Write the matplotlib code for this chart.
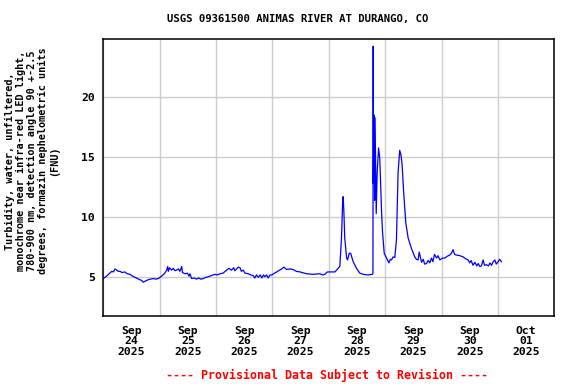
import pandas as pd
import matplotlib
matplotlib.use("Agg")
import matplotlib.pyplot as plt
import matplotlib.dates as mdates
from matplotlib.ticker import NullFormatter

# hours since 2025-09-24 00:00 and turbidity (FNU)
hours = [0, 1.4, 2.5, 3.6, 4.3, 5.0, 5.7, 6.4, 7.1, 8.0, 9.2, 10.2, 11.4, 12.5,
         13.5, 14.5, 15.6, 16.3, 17.0, 18.0, 19.1, 20.0, 21.3, 22.4, 23.4,
         24.8, 26.0, 27.0, 27.4, 27.7, 28.2, 29.1, 29.8, 30.5, 31.2, 32.0, 32.6,
         33.4, 33.7, 34.8, 35.8, 36.5, 36.9, 37.6, 38.6, 39.7, 40.6, 41.5, 42.6,
         43.6, 44.7, 46.0, 47.5, 48.6, 49.7, 51.0, 52.5, 53.5, 54.6, 55.5, 56.0,
         56.8, 57.5, 58.2, 58.8, 59.6, 60.3, 61.7, 62.8, 63.8, 64.5, 65.2, 66.0,
         66.8, 67.5, 68.2, 68.8, 69.5, 70.2, 71.0, 71.7, 73.8, 75.9, 76.9, 78.0,
         79.5, 80.8, 82.2, 83.7, 86.5, 89.4, 92.2, 93.4, 94.3, 95.4, 96.4, 98.6,
         100.7, 101.4, 101.9, 102.1, 102.4, 102.8, 103.6, 104.0, 104.7, 105.3,
         106.4, 107.8, 109.2, 110.6, 112.8, 114.5, 114.8, 114.9, 115.0, 115.2,
         115.5, 115.7, 116.2, 116.6, 117.2, 117.7, 118.5, 118.9, 119.6, 120.6,
         121.6, 122.2, 122.7, 123.4, 124.1, 124.8, 125.1, 125.5, 126.2, 126.7,
         127.2, 127.9, 128.8, 129.8, 131.2, 132.0, 132.6, 133.3, 134.0, 134.5,
         135.5, 136.2, 136.8, 137.6, 138.3, 139.0, 139.7, 140.3, 141.0, 141.9,
         142.5, 143.3, 144.4, 145.4, 146.4, 147.5, 148.2, 148.9, 149.6, 150.4,
         151.8, 153.2, 154.2, 155.3, 156.0, 156.6, 157.4, 158.2, 159.0, 159.6,
         160.3, 161.0, 161.7, 162.3, 163.1, 164.0, 164.6, 165.3, 166.0, 166.7,
         167.3, 168.1, 168.7, 169.5]
fnu = [4.9, 5.1, 5.3, 5.5, 5.45, 5.7, 5.6, 5.5, 5.5, 5.4, 5.45, 5.3, 5.25, 5.1,
       5.0, 4.9, 4.8, 4.75, 4.6, 4.7, 4.8, 4.85, 4.9, 4.85, 4.9,
       5.1, 5.3, 5.6, 5.9, 5.5, 5.8, 5.6, 5.75, 5.55, 5.6, 5.7, 5.5,
       5.9, 5.4, 5.3, 5.35, 5.1, 5.3, 4.9, 4.95, 4.85, 4.95, 4.85, 4.9,
       5.0, 5.05, 5.15, 5.25, 5.2, 5.3, 5.35, 5.6, 5.75, 5.6, 5.8, 5.55,
       5.7, 5.85, 5.8, 5.5, 5.6, 5.35, 5.3, 5.2, 5.15, 4.95, 5.2, 5.0,
       5.2, 4.95, 5.2, 5.05, 5.2, 4.95, 5.2, 5.2, 5.45, 5.7, 5.85, 5.65,
       5.7, 5.65, 5.5, 5.45, 5.3, 5.25, 5.3, 5.2, 5.25, 5.45, 5.45, 5.45,
       5.9, 8.25, 11.2, 11.7, 10.6, 8.25, 6.6, 6.45, 7.0, 7.0,
       6.3, 5.75, 5.35, 5.25, 5.2, 5.25, 5.3, 24.2, 12.8, 18.5,
       11.4, 18.25, 10.3, 13.7, 15.75, 14.9, 10.3, 8.7, 7.0, 6.6,
       6.2, 6.5, 6.45, 6.7, 6.65, 8.1, 10.6, 13.7, 15.55, 15.2,
       14.4, 12.0, 9.5, 8.25, 7.4, 7.0, 6.7, 6.5, 6.45, 7.1,
       6.25, 6.5, 6.1, 6.15, 6.4, 6.2, 6.6, 6.3, 6.9, 6.6,
       6.8, 6.45, 6.6, 6.6, 6.75, 6.85, 7.0, 7.3, 6.9, 6.85,
       6.8, 6.7, 6.55, 6.45, 6.2, 6.4, 6.0, 6.25, 5.95, 6.15,
       5.9, 5.95, 6.45, 6.0, 6.05, 5.95, 6.2, 6.0, 6.3, 6.45,
       6.1, 6.3, 6.5, 6.3]

start = pd.Timestamp("2025-09-24 00:00")
times = start + pd.to_timedelta(hours, unit="h")

mono = "DejaVu Sans Mono"

fig = plt.figure(figsize=(5.76, 3.84), dpi=100)
ax = fig.add_axes([0.1793, 0.1771, 0.783, 0.7214])

ax.plot(times, fnu, color="#0000ff", linewidth=0.9)

ax.set_xlim(start, pd.Timestamp("2025-10-02 00:00"))
ax.set_ylim(1.79, 24.8)
ax.set_yticks([5, 10, 15, 20])

ax.xaxis.set_major_locator(mdates.DayLocator())
ax.xaxis.set_major_formatter(NullFormatter())
ax.xaxis.set_minor_locator(mdates.HourLocator(byhour=12))
ax.xaxis.set_minor_formatter(mdates.DateFormatter("%b\n%d\n%Y"))

ax.grid(True, which="major", color="#cccccc", linewidth=1)
ax.set_axisbelow(True)
ax.tick_params(which="both", length=0)
ax.tick_params(axis="x", which="minor", pad=7)
ax.tick_params(axis="y", pad=6)
for lab in ax.get_xticklabels(minor=True) + ax.get_yticklabels():
    lab.set_fontfamily(mono)
    lab.set_fontweight("bold")
    lab.set_fontsize(8.2)
for lab in ax.get_xticklabels(minor=True):
    lab.set_linespacing(1.05)
for s in ax.spines.values():
    s.set_linewidth(1.1)

fig.text(297.5 / 576, 1 - 19 / 384, "USGS 09361500 ANIMAS RIVER AT DURANGO, CO",
         ha="center", va="center", family=mono, weight="bold", fontsize=7.7)

fig.text(31.7 / 576, 1 - 161 / 384,
         "Turbidity, water, unfiltered,\n"
         "monochrome near infra-red LED light,\n"
         "780-900 nm, detection angle 90 +-2.5\n"
         "degrees, formazin nephelometric units\n"
         "(FNU)",
         rotation=90, ha="center", va="center", multialignment="center",
         family=mono, weight="bold", fontsize=7.3, linespacing=1.12)

fig.text(327.5 / 576, 1 - 375 / 384,
         "---- Provisional Data Subject to Revision ----",
         ha="center", va="center", color="red", family=mono, weight="bold",
         fontsize=8.4)

fig.savefig("out.png", dpi=100)
